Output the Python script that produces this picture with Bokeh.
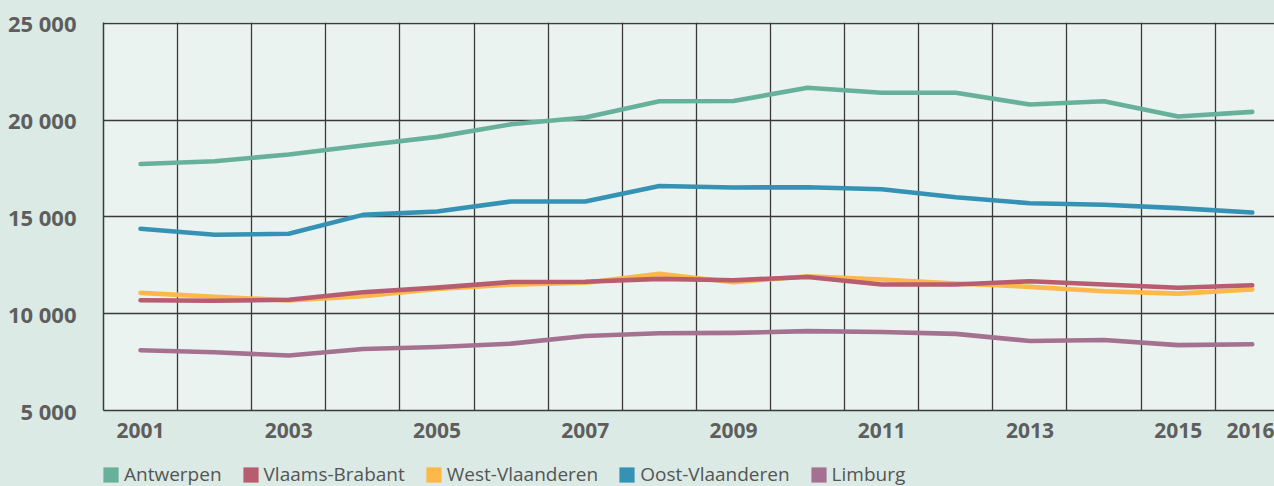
from bokeh.plotting import figure
from bokeh.models import Range1d, FixedTicker, Legend, LegendItem
from bokeh.layouts import column
from bokeh.embed import file_html
from bokeh.resources import INLINE

# ---- data ----
years = list(range(2001, 2017))
antwerpen = [17740, 17880, 18230, 18690, 19140, 19790, 20140, 20980, 20990, 21680, 21420, 21420, 20810, 20980, 20190, 20430]
vlaams_brabant = [10700, 10670, 10720, 11110, 11350, 11640, 11650, 11800, 11730, 11900, 11510, 11510, 11680, 11510, 11340, 11470]
west_vlaanderen = [11080, 10880, 10690, 10900, 11280, 11500, 11600, 12060, 11630, 11940, 11770, 11560, 11390, 11160, 11040, 11250]
oost_vlaanderen = [14390, 14080, 14130, 15110, 15280, 15800, 15800, 16600, 16520, 16540, 16430, 16020, 15710, 15630, 15460, 15230]
limburg = [8115, 8010, 7840, 8180, 8285, 8455, 8850, 8990, 9010, 9100, 9060, 8960, 8590, 8640, 8380, 8420]

series_names = ["Antwerpen", "Vlaams-Brabant", "West-Vlaanderen", "Oost-Vlaanderen", "Limburg"]
series_values = [antwerpen, vlaams_brabant, west_vlaanderen, oost_vlaanderen, limburg]
series_colors = ["#67b19a", "#b85c70", "#fcb848", "#3592b4", "#a47290"]
draw_order = [0, 3, 4, 2, 1]

x_tick_years = [2001, 2003, 2005, 2007, 2009, 2011, 2013, 2015, 2016]
x_grid_lines = [y + 0.5 for y in range(2001, 2016)]
y_ticks = [5000, 10000, 15000, 20000, 25000]
y_tick_labels = ["5 000", "10 000", "15 000", "20 000", "25 000"]

OUTER = "#dbeae4"
INNER = "#eaf3ef"
GRID = "#3a3a3a"
TXT = "#5e5e5e"

p = figure(width=1274, height=456, output_backend="svg", toolbar_location=None,
           x_range=Range1d(2000.5, 2016.3), y_range=Range1d(5000, 25050),
           min_border_left=103, min_border_right=0, min_border_top=22, min_border_bottom=46,
           background_fill_color=INNER, border_fill_color=OUTER, outline_line_color=None)

# grids
p.xgrid.ticker = FixedTicker(ticks=x_grid_lines)
p.ygrid.ticker = FixedTicker(ticks=y_ticks)
for g in (p.xgrid, p.ygrid):
    g.grid_line_color = GRID
    g.grid_line_width = 1.3

# axes
p.xaxis.ticker = FixedTicker(ticks=x_tick_years)
p.yaxis.ticker = FixedTicker(ticks=y_ticks)
p.yaxis.major_label_overrides = {t: l for t, l in zip(y_ticks, y_tick_labels)}
for ax in (p.xaxis, p.yaxis):
    ax.axis_line_color = GRID
    ax.axis_line_width = 1.5
    ax.major_tick_line_color = None
    ax.minor_tick_line_color = None
    ax.major_label_text_font = "Open Sans"
    ax.major_label_text_font_style = "bold"
    ax.major_label_text_color = TXT
p.xaxis.major_label_text_font_size = "21px"
p.yaxis.major_label_text_font_size = "22px"
p.xaxis.major_label_standoff = 6
p.yaxis.major_label_standoff = 21

# lines
for i in draw_order:
    p.line(years, series_values[i], line_color=series_colors[i], line_width=4.6,
           line_join="round", line_cap="round")

# ---- legend strip (separate small figure, frame aligned with the chart's) ----
lf = figure(width=1274, height=30, output_backend="svg", toolbar_location=None,
            x_range=Range1d(0, 1), y_range=Range1d(0, 1),
            x_axis_location=None, y_axis_location=None,
            min_border_left=103, min_border_right=0, min_border_top=0, min_border_bottom=0,
            background_fill_color=None, border_fill_color=OUTER, outline_line_color=None)
lf.xgrid.visible = False
lf.ygrid.visible = False

items = []
for name, c in zip(series_names, series_colors):
    r = lf.quad(left=[5], right=[6], bottom=[5], top=[6], fill_color=c, line_color=None)
    items.append(LegendItem(label=name, renderers=[r]))

legend = Legend(items=items, orientation="horizontal", location=(-2, -1),
                glyph_width=19, glyph_height=19, label_height=19, label_standoff=4, spacing=19,
                padding=0, margin=0, border_line_color=None, background_fill_alpha=0,
                label_text_font="Open Sans", label_text_font_size="19px",
                label_text_color="#555555")
lf.add_layout(legend, "center")

layout = column(p, lf, spacing=0, styles={"background-color": OUTER})
open("out.html", "w").write(file_html(layout, INLINE))
